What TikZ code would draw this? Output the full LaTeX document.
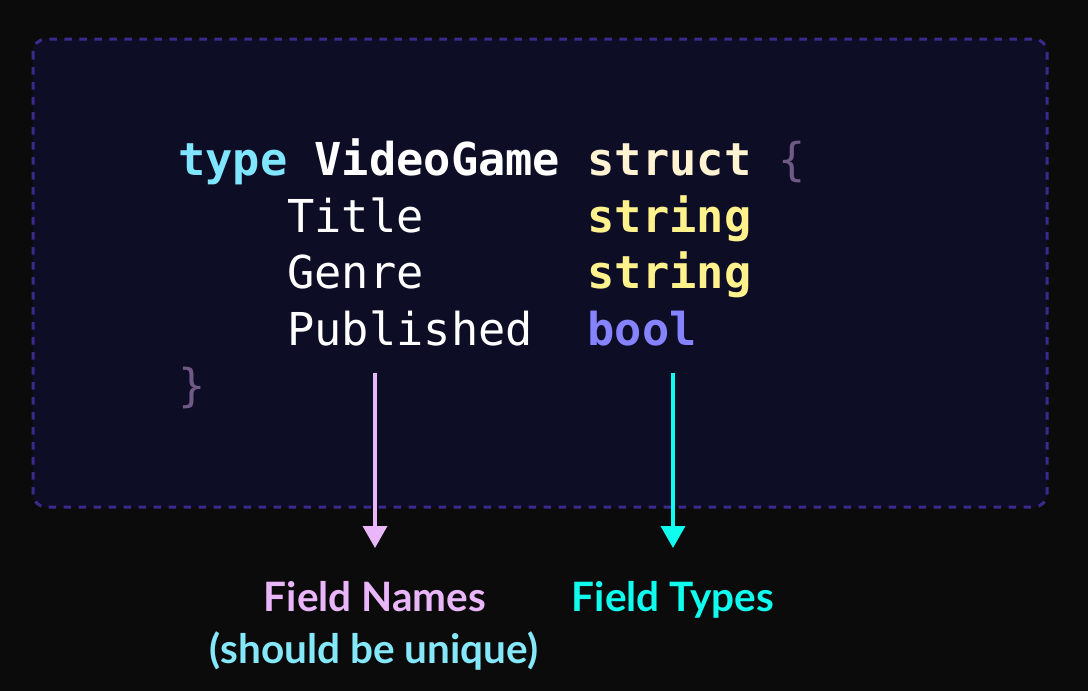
\documentclass[tikz,border=0pt]{standalone}
\usepackage{fontspec}
\usetikzlibrary{arrows.meta}
\newfontfamily\codefont{DejaVu Sans Mono}
\newfontfamily\labelfont{Lato}
\definecolor{bgc}{HTML}{0C0B0B}
\definecolor{boxfill}{HTML}{0E0D26}
\definecolor{boxline}{HTML}{3B2A8C}
\definecolor{kwtype}{HTML}{80E6FF}
\definecolor{kwstruct}{HTML}{FFF3D2}
\definecolor{brace}{HTML}{6F5A86}
\definecolor{tstring}{HTML}{FFF28C}
\definecolor{tbool}{HTML}{8583FF}
\definecolor{pinkc}{HTML}{E9B6F9}
\definecolor{cyanc}{HTML}{0FFCEE}
\definecolor{lcyan}{HTML}{85E8FA}
\tikzset{
  code/.style={anchor=base west, inner sep=0pt, font=\codefont\fontsize{45.3}{56}\selectfont},
  codeb/.style={code, font=\codefont\bfseries\fontsize{45.3}{56}\selectfont},
  lbl/.style={anchor=base, inner sep=0pt, font=\labelfont\bfseries\fontsize{40.5}{46}\selectfont},
  arr/.style={line width=3.5pt, -{Triangle[width=24pt,length=22pt]}},
}
\begin{document}
\begin{tikzpicture}[x=1pt,y=-1pt]
\fill[bgc] (0,0) rectangle (1088,691);
\useasboundingbox (0,0) rectangle (1088,691);
\draw[boxline, fill=boxfill, line width=3pt, dash pattern=on 7.5pt off 7.5pt, rounded corners=13pt] (33,39) rectangle (1047,507);
% column width 27.3
\node[codeb, text=kwtype] (ktype) at (178,175) {type};
\node[codeb, text=white] (kname) at (314.5,175) {VideoGame};
\node[codeb, text=kwstruct] (kstruct) at (587.5,175) {struct};
\node[code, text=brace] (lbrace) at (778.6,175) {\{};
\node[code, text=white] (f1) at (287.2,232) {Title};
\node[codeb, text=tstring] (t1) at (587.5,232) {string};
\node[code, text=white] (f2) at (287.2,288.5) {Genre};
\node[codeb, text=tstring] (t2) at (587.5,288.5) {string};
\node[code, text=white] (f3) at (287.2,345) {Published};
\node[codeb, text=tbool] (t3) at (587.5,345) {bool};
\node[code, text=brace] (rbrace) at (178,401.5) {\}};
\coordinate (ns) at (375,373);
\coordinate (ne) at (375,548);
\coordinate (ts) at (673,373);
\coordinate (te) at (673,548);
\draw[arr, pinkc] (ns) -- (ne);
\draw[arr, cyanc] (ts) -- (te);
\node[lbl, text=pinkc] (ln) at (375,611) {Field Names};
\node[lbl, text=lcyan] (lu) at (374,663) {(should be unique)};
\node[lbl, text=cyanc] (lt) at (673,611) {Field Types};
\end{tikzpicture}
\end{document}
